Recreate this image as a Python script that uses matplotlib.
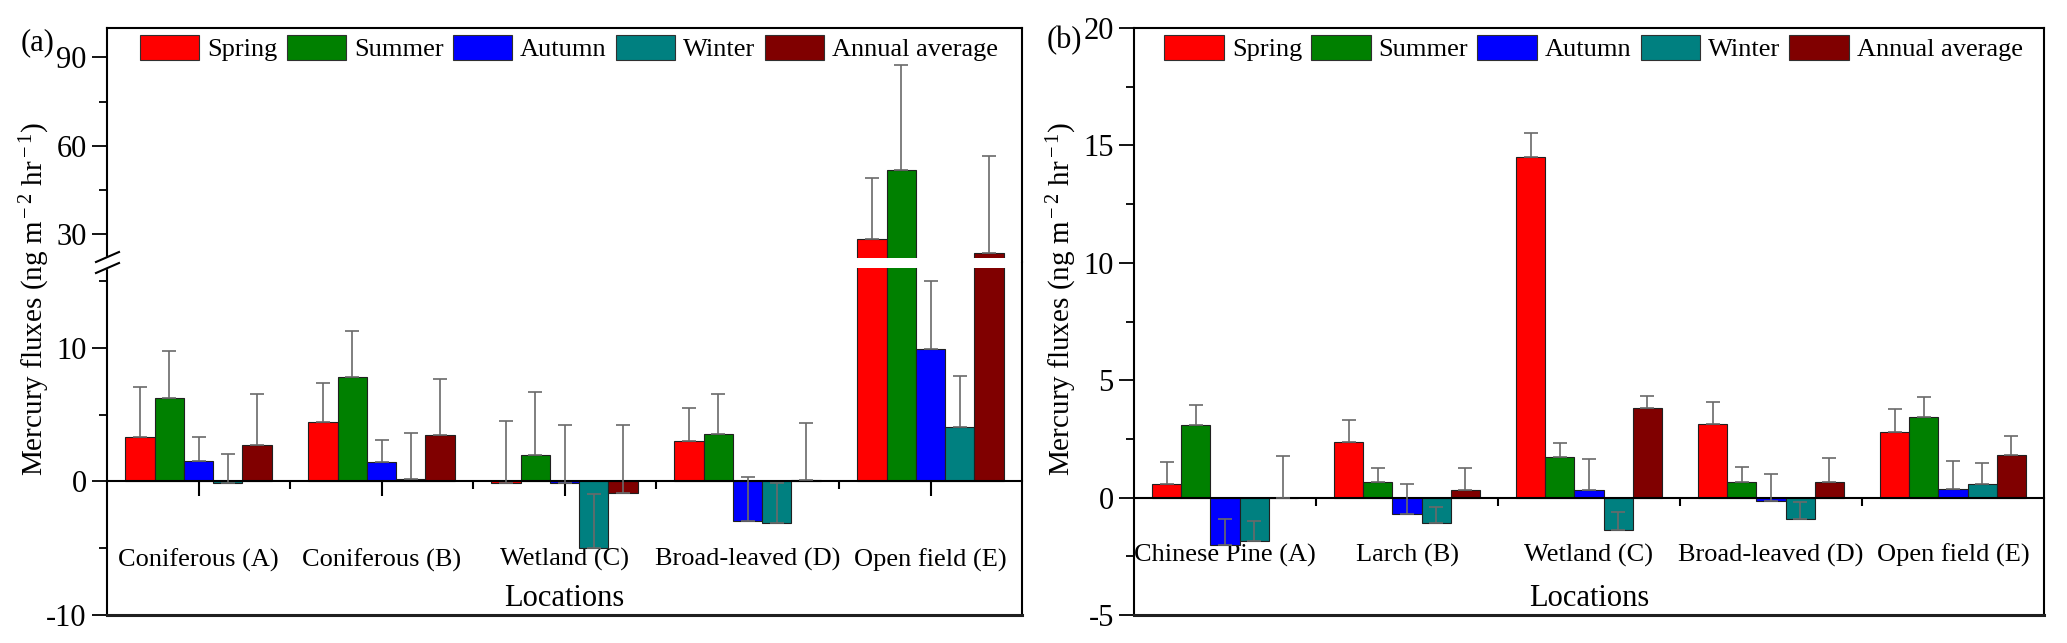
import numpy as np
import matplotlib
matplotlib.use("Agg")
import matplotlib.pyplot as plt
from matplotlib.lines import Line2D
from matplotlib.patches import Rectangle, Patch
from matplotlib.ticker import MultipleLocator, FixedLocator

plt.rcParams.update({"font.family": "Liberation Serif",
                     "mathtext.fontset": "custom",
                     "mathtext.rm": "Liberation Serif",
                     "mathtext.it": "Liberation Serif:italic",
                     "axes.unicode_minus": False})

# ── Data ───────────────────────────────────────────────────────────────────
seasons = ["Spring", "Summer", "Autumn", "Winter", "Annual average"]
colors = ["#ff0000", "#008000", "#0000ff", "#008080", "#800000"]

sites_a = ["Coniferous (A)", "Coniferous (B)", "Wetland (C)",
           "Broad-leaved (D)", "Open field (E)"]
spring_a = [3.3, 4.46, -0.1, 3.03, 28.3]
summer_a = [6.26, 7.84, 1.95, 3.56, 51.8]
autumn_a = [1.53, 1.48, -0.1, -2.93, 9.92]
winter_a = [-0.1, 0.15, -4.95, -3.13, 4.08]
annual_a = [2.73, 3.48, -0.85, 0.13, 23.4]
spring_a_err = [3.77, 2.93, 4.66, 2.46, 20.8]
summer_a_err = [3.51, 3.44, 4.72, 3.0, 35.6]
autumn_a_err = [1.83, 1.65, 4.3, 3.28, 5.12]
winter_a_err = [2.18, 3.51, 3.98, 2.98, 3.82]
annual_a_err = [3.83, 4.19, 5.05, 4.28, 33.0]

sites_b = ["Chinese Pine (A)", "Larch (B)", "Wetland (C)",
           "Broad-leaved (D)", "Open field (E)"]
spring_b = [0.57, 2.38, 14.51, 3.13, 2.81]
summer_b = [3.10, 0.65, 1.71, 0.65, 3.43]
autumn_b = [-2.03, -0.68, 0.32, -0.16, 0.38]
winter_b = [-1.83, -1.09, -1.36, -0.92, 0.60]
annual_b = [-0.02, 0.31, 3.80, 0.65, 1.81]
spring_b_err = [0.93, 0.91, 1.0, 0.94, 0.95]
summer_b_err = [0.86, 0.63, 0.61, 0.65, 0.87]
autumn_b_err = [1.12, 1.26, 1.34, 1.16, 1.18]
winter_b_err = [0.84, 0.68, 0.75, 0.72, 0.87]
annual_b_err = [1.81, 0.97, 0.51, 1.04, 0.80]

vals_a = [spring_a, summer_a, autumn_a, winter_a, annual_a]
errs_a = [spring_a_err, summer_a_err, autumn_a_err, winter_a_err, annual_a_err]
vals_b = [spring_b, summer_b, autumn_b, winter_b, annual_b]
errs_b = [spring_b_err, summer_b_err, autumn_b_err, winter_b_err, annual_b_err]

W, H = 2067, 643
fig = plt.figure(figsize=(W / 100, H / 100), dpi=100)


def fx(px):
    return px / W


def fy(py):
    return 1 - py / H


def ax_rect(x0, x1, top, bottom):
    return [fx(x0), fy(bottom), fx(x1) - fx(x0), fy(top) - fy(bottom)]


BW = 0.16
x = np.arange(1, 6)
TICK = dict(direction="out", labelsize=22, width=1.3, color="k")


def draw_bars(ax, vals, errs):
    for i, (v, e) in enumerate(zip(vals, errs)):
        xs = x + (i - 2) * BW
        ax.bar(xs, v, BW, color=colors[i], edgecolor="#202020",
               linewidth=0.8, zorder=2)
        ax.errorbar(xs, v, yerr=[np.zeros(len(e)), e], fmt="none",
                    ecolor="#6a6a6a", elinewidth=1.2, capsize=5,
                    capthick=1.2, zorder=3)
    ax.set_xlim(0.5, 5.5)


def style_lower(ax, labels, pad, major_len):
    ax.spines["bottom"].set_position(("data", 0))
    ax.spines["top"].set_visible(False)
    for s in ["left", "right", "bottom"]:
        ax.spines[s].set_linewidth(1.5)
    ax.xaxis.set_major_locator(FixedLocator(x))
    ax.xaxis.set_minor_locator(FixedLocator(x[:-1] + 0.5))
    ax.set_xticklabels(labels, fontsize=19)
    ax.tick_params(axis="x", which="major", direction="out",
                   length=major_len, width=1.5, pad=pad)
    ax.tick_params(axis="x", which="minor", direction="out", length=6,
                   width=1.5)
    ax.tick_params(axis="y", which="major", length=11, **TICK)
    ax.tick_params(axis="y", which="minor", length=6, direction="out",
                   width=1.3)
    ax.axhline(ax.get_ylim()[0], color="#202020", lw=2.2, clip_on=False,
               zorder=4)


def add_legend(ax):
    handles = [Patch(facecolor=c, edgecolor="#303030", linewidth=0.8)
               for c in colors]
    ax.legend(handles, seasons, loc="upper center", ncol=5, frameon=False,
              bbox_to_anchor=(0.505, 1.0), borderaxespad=0.15,
              borderpad=0.1, fontsize=19, handlelength=2.25,
              handleheight=1.1, handletextpad=0.3, columnspacing=0.35)


# ══════════════════════════════════════════════════════════════════════════
# Panel (a) — broken y axis
# ══════════════════════════════════════════════════════════════════════════
BRK = 262
ax_lo = fig.add_axes(ax_rect(107, 1022, BRK, 615))
ax_hi = fig.add_axes(ax_rect(107, 1022, 28, BRK))

draw_bars(ax_lo, vals_a, errs_a)
draw_bars(ax_hi, vals_a, errs_a)
ax_lo.set_ylim(-10, 16.44)
ax_hi.set_ylim(20.5, 100)
ax_lo.yaxis.set_major_locator(FixedLocator([-10, 0, 10]))
ax_lo.yaxis.set_minor_locator(FixedLocator([-5, 5, 15]))
ax_hi.yaxis.set_major_locator(FixedLocator([30, 60, 90]))
ax_hi.yaxis.set_minor_locator(FixedLocator([45, 75]))
style_lower(ax_lo, sites_a, 37, 11)

ax_hi.spines["bottom"].set_visible(False)
for s in ["left", "right", "top"]:
    ax_hi.spines[s].set_linewidth(1.5)
ax_hi.tick_params(axis="x", which="both", bottom=False, labelbottom=False)
ax_hi.tick_params(axis="y", which="major", length=11, **TICK)
ax_hi.tick_params(axis="y", which="minor", length=6, direction="out",
                  width=1.3)

# white gap through the broken bars
ax_lo.axhspan(15.98, 16.44, color="white", lw=0, zorder=2.2)
ax_hi.axhspan(20.5, 21.96, color="white", lw=0, zorder=2.2)
add_legend(ax_hi)

# break marks on the left spine
fig.add_artist(Rectangle((fx(104), fy(268)), fx(7), fy(257) - fy(268),
                         transform=fig.transFigure, color="white", zorder=5))
for yc in (257, 268):
    fig.add_artist(Line2D([fx(96), fx(119)], [fy(yc + 5), fy(yc - 5)],
                          transform=fig.transFigure, color="k", lw=1.5,
                          zorder=6))

fig.text(fx(35), fy(299), r"Mercury fluxes (ng m$^{\rm -2}$ hr$^{\rm -1}$)",
         rotation=90, ha="center", va="center", fontsize=21)
fig.text(fx(564), fy(598), "Locations", ha="center", va="center",
         fontsize=22)
fig.text(fx(21), fy(43), "(a)", ha="left", va="center", fontsize=22)

# ══════════════════════════════════════════════════════════════════════════
# Panel (b)
# ══════════════════════════════════════════════════════════════════════════
ax_b = fig.add_axes(ax_rect(1134, 2044, 28, 615))
draw_bars(ax_b, vals_b, errs_b)
ax_b.set_ylim(-5, 20)
ax_b.yaxis.set_major_locator(MultipleLocator(5))
ax_b.yaxis.set_minor_locator(MultipleLocator(2.5))
style_lower(ax_b, sites_b, 33, 0)
ax_b.spines["top"].set_visible(True)
ax_b.spines["top"].set_linewidth(1.5)
add_legend(ax_b)

fig.text(fx(1062), fy(299), r"Mercury fluxes (ng m$^{\rm -2}$ hr$^{\rm -1}$)",
         rotation=90, ha="center", va="center", fontsize=21)
fig.text(fx(1589), fy(598), "Locations", ha="center", va="center",
         fontsize=22)
fig.text(fx(1047), fy(41), "(b)", ha="left", va="center", fontsize=22)

fig.savefig("out.png", dpi=100)
